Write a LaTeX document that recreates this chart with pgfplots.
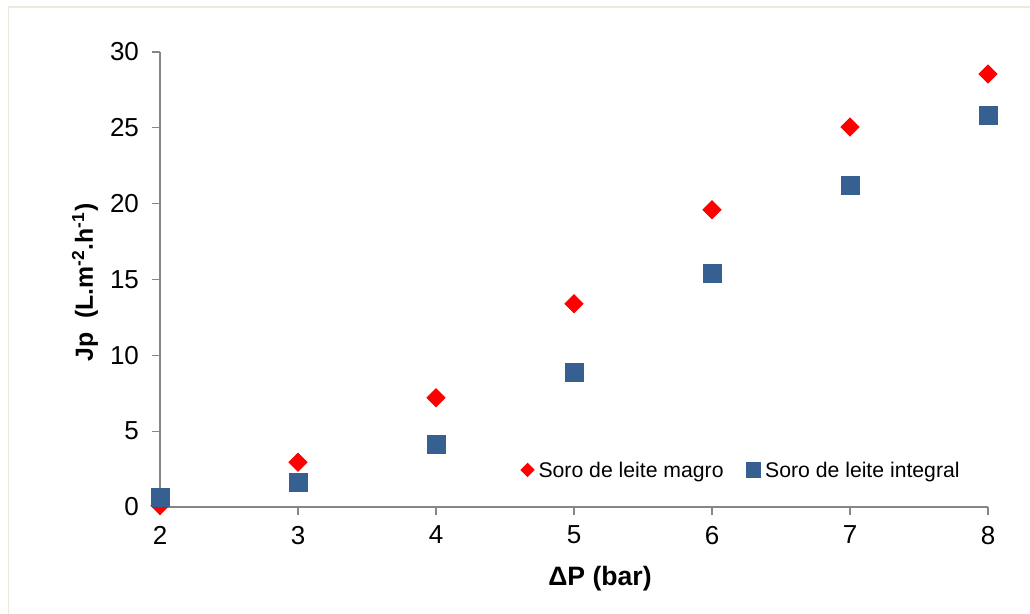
\documentclass[border=0pt]{standalone}
\usepackage{fontspec}
\setmainfont{Liberation Sans}
\usepackage{pgfplots}
\pgfplotsset{compat=1.18}

\definecolor{skimred}{RGB}{255,0,0}
\definecolor{wholeblue}{RGB}{55,96,146}
\definecolor{axisgray}{RGB}{134,134,134}
\definecolor{framebeige}{RGB}{236,233,222}

\begin{document}
\begin{tikzpicture}
\useasboundingbox (-80pt,-53.5pt) rectangle (435pt,253.5pt);
\draw[framebeige, line width=0.8pt] (-75.75pt,-60pt) -- (-75.75pt,250pt) -- (440pt,250pt);
\begin{axis}[
  at={(0,0)}, anchor=south west,
  scale only axis,
  width=414pt, height=227.5pt,
  xmin=2, xmax=8, ymin=0, ymax=30,
  xtick={2,3,4,5,6,7,8},
  ytick={0,5,10,15,20,25,30},
  axis lines*=left,
  axis line style={axisgray, line width=0.6pt},
  every tick/.style={axisgray, line width=0.6pt},
  tick align=outside,
  major tick length=4pt,
  tick label style={font=\fontsize{13pt}{15pt}\selectfont},
  /pgf/number format/assume math mode=true,
  xticklabel style={yshift=-2pt},
  yticklabel style={xshift=-3pt},
  xlabel={\bfseries ΔP (bar)},
  ylabel={\bfseries Jp\ \ (L.m\textsuperscript{-2}.h\textsuperscript{-1})},
  xlabel style={font=\fontsize{13.3pt}{15pt}\selectfont,
    at={(axis description cs:0.5,0)}, anchor=center, yshift=-36pt, xshift=13pt},
  ylabel style={font=\fontsize{12.4pt}{14pt}\selectfont,
    at={(axis description cs:-0.0906,0.4934)}, anchor=center},
  clip=false,
  legend style={draw=none, fill=none, at={(axis description cs:0.435,0.079)}, anchor=west,
    font=\fontsize{10.6pt}{12pt}\selectfont, inner sep=0pt,
    /tikz/every even column/.append style={column sep=9pt}},
  legend columns=2,
]
% skim whey: diamonds (squares turned 45 degrees)
\addplot[only marks, mark=square*, mark size=3.2pt, color=skimred,
  mark options={fill=skimred, draw=skimred, rotate=45},
  legend image code/.code={\fill[skimred] (0.12cm,0.02cm) ++(0,-3.3pt) -- ++(3.3pt,3.3pt) -- ++(-3.3pt,3.3pt) -- ++(-3.3pt,-3.3pt) -- cycle;}]
  coordinates {(2,0.1) (3,2.95) (4,7.2) (5,13.4) (6,19.6) (7,25.05) (8,28.55)};
\addlegendentry{Soro de leite magro}
% whole whey: squares
\addplot[only marks, mark=square*, mark size=4.5pt, color=wholeblue,
  mark options={fill=wholeblue, draw=wholeblue},
  legend image code/.code={\fill[wholeblue] (0.12cm,0.02cm) ++(-3.7pt,-3.7pt) rectangle ++(7.4pt,7.4pt);}]
  coordinates {(2,0.65) (3,1.65) (4,4.15) (5,8.9) (6,15.4) (7,21.2) (8,25.85)};
\addlegendentry{Soro de leite integral}
\end{axis}
\end{tikzpicture}
\end{document}
